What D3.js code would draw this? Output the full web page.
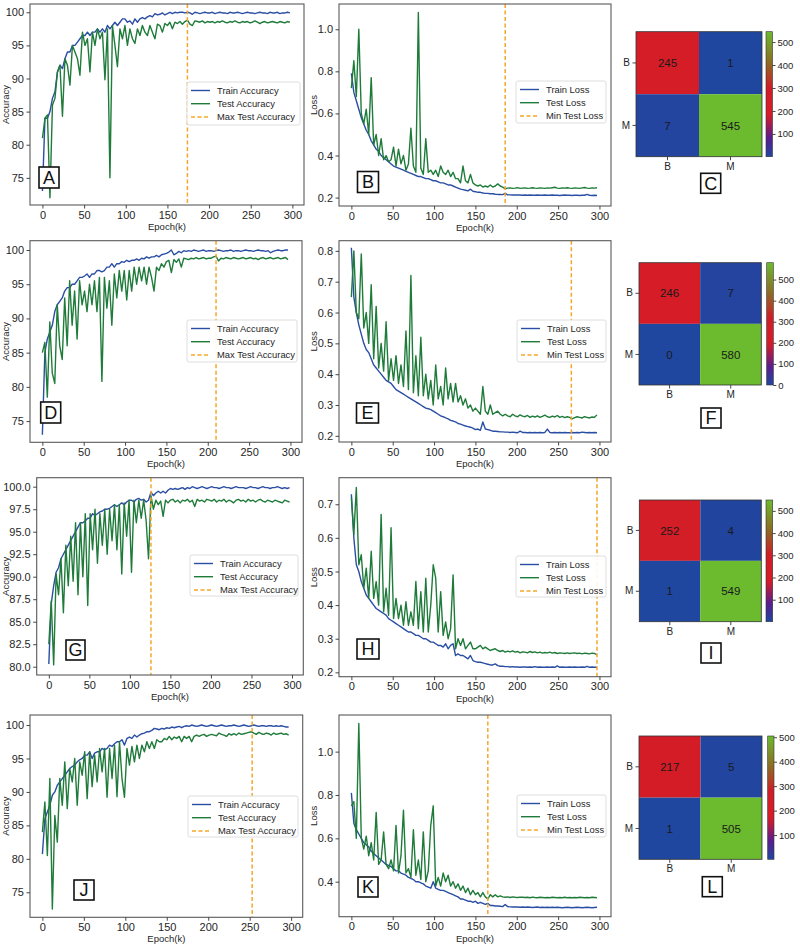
<!DOCTYPE html>
<html><head><meta charset="utf-8">
<script src="https://cdn.jsdelivr.net/npm/d3@7"></script>
<style>
body{margin:0;background:#fff}
svg{display:block}
text{font-family:"Liberation Sans",Arial,Helvetica,sans-serif}
</style>
</head><body>
<svg id="c" width="800" height="946"></svg>
<script>
// ---------- DATA ----------
const epochs = d3.range(0, 300, 3); // epoch (k) sample positions
const tickEpochs = [0, 50, 100, 150, 200, 250, 300];
const classes = ["B", "M"];

// Row 1
const trainAccA = [73,84,84,85,87,88,91,92,91.5,93, 94,94,95,95,95.5,96,96.5,96.5,97,96.5, 97,97,97.5,97,97.5,97,98,97.5,98,98.5, 98,98.5,99,99,98.5,98.7,98.2,99,98.5,99, 99.2,99,99.3,99.5,99.3,99.8,99.6,99.7,99.9,99.6, 99.8,100,99.8,100,99.9,100,100,99.9,100,99.9, 99.7,100,99.9,99.8,99.9,100,99.9,99.9,100,99.8, 99.9,100,99.9,99.9,99.8,100,99.9,99.9,100,99.9, 99.8,99.9,100,99.9,99.9,99.8,99.9,100,99.9,99.9, 99.8,100,99.9,99.9,100,99.8,99.9,99.9,100,99.9];
const testAccA = [81,84,84.5,72,86,87,91,92,84.3,93, 92,89,95,94,93,90.5,97,95,96,91, 97,95,97.5,96,97,89.8,97.5,75,98,95, 91.8,97.5,96,98,95,97.5,96,95.3,97.5,96.5, 98,97,96.5,98,97,96,98.2,98,97,98.3, 98,98.5,97.5,98.5,98.3,98.6,98.2,98.6,98.8,98.2, 98,98.7,98.6,98.5,98.7,98.4,98.6,98.5,98.6,98.4, 98.6,98.5,98.7,98.5,98.4,98.6,98.5,98.7,98.5,98.4, 98.6,98.5,98.6,98.4,98.5,98.7,98.5,98.3,98.5,98.6, 98.4,98.5,98.6,98.5,98.4,98.6,98.5,98.4,98.6,98.5];
const trainLossB = [0.79,0.7,0.66,0.62,0.58,0.55,0.52,0.5,0.47,0.45, 0.43,0.42,0.4,0.39,0.38,0.37,0.36,0.35,0.345,0.34, 0.335,0.33,0.325,0.32,0.315,0.31,0.305,0.3,0.3,0.295, 0.29,0.29,0.285,0.28,0.28,0.275,0.27,0.27,0.265,0.26, 0.26,0.255,0.25,0.245,0.24,0.238,0.235,0.232,0.24,0.23, 0.228,0.225,0.225,0.222,0.22,0.22,0.218,0.218,0.216,0.215, 0.215,0.214,0.22,0.213,0.213,0.212,0.213,0.212,0.212,0.211, 0.212,0.211,0.212,0.211,0.211,0.212,0.211,0.211,0.212,0.211, 0.211,0.212,0.211,0.211,0.21,0.211,0.212,0.211,0.211,0.21, 0.211,0.211,0.21,0.211,0.211,0.215,0.211,0.21,0.211,0.21];
const testLossB = [0.72,0.85,0.68,1.0,0.6,0.55,0.62,0.5,0.77,0.45, 0.5,0.4,0.48,0.38,0.4,0.37,0.38,0.44,0.35,0.43, 0.36,0.4,0.33,0.36,0.53,0.35,0.32,1.08,0.34,0.31, 0.48,0.32,0.33,0.31,0.33,0.3,0.35,0.32,0.31,0.33, 0.3,0.32,0.29,0.29,0.27,0.35,0.28,0.27,0.31,0.27, 0.26,0.255,0.26,0.25,0.255,0.25,0.26,0.25,0.255,0.265, 0.255,0.25,0.242,0.245,0.246,0.244,0.245,0.247,0.244,0.245, 0.246,0.244,0.245,0.247,0.245,0.244,0.246,0.245,0.244,0.246, 0.245,0.247,0.249,0.245,0.244,0.246,0.245,0.247,0.245,0.244, 0.246,0.245,0.244,0.246,0.248,0.245,0.244,0.246,0.245,0.247];
const cmC = [[245, 1], [7, 545]];

// Row 2
const trainAccD = [73,85,87,88,89,91,92,92.5,93,94, 94.5,94.5,95,95,95.5,96,96,96.2,96.5,96, 96.5,96.5,97,97,96.8,97,97.5,97.5,98,97.5, 98,98,98.3,98.2,98.5,98.3,98.5,98.5,98.7,98.5, 98.8,98.7,99,98.8,99,99,99.2,99,99.3,99.4, 99.5,99.7,100,99.3,99.5,99.8,99.6,99.9,99.8,99.9, 99.8,100,99.9,99.8,99.9,100,99.8,99.9,99.9,99.8, 99.9,100,99.9,99.8,99.9,99.9,100,99.8,99.9,99.9, 99.8,99.9,100,99.9,99.9,99.8,99.9,100,99.9,99.9, 99.8,99.9,99.6,99.8,99.9,100,99.9,99.9,100,100];
const testAccD = [85,86.5,78.5,89.5,82,80.5,92,86,84,93, 86,95.5,89,94,87,95.5,92,94,91,95, 92,95.5,91,96,80.8,96,91.5,95.5,89,96.5, 93,97,94,97,92.7,97,94,97.5,95,97.5, 95.5,97.5,95,97.5,96,94,97.5,97,98,97.5, 98.3,98.5,96.7,98.6,98.2,98.7,97.5,98.8,98.7,98.6, 98.8,98.7,98.9,98.7,98.8,98.9,98.7,98.8,98.8,99, 99.1,98.4,98.8,98.7,98.9,98.8,98.7,98.9,98.8,98.7, 98.8,98.9,98.7,98.8,98.9,98.7,98.8,98.6,98.8,98.9, 98.7,98.8,98.9,98.7,98.8,98.9,98.7,98.8,98.9,98.6];
const trainLossE = [0.81,0.65,0.6,0.56,0.53,0.5,0.48,0.47,0.45,0.43, 0.42,0.41,0.4,0.39,0.38,0.375,0.37,0.36,0.35,0.345, 0.34,0.335,0.33,0.325,0.32,0.315,0.31,0.305,0.3,0.295, 0.29,0.288,0.285,0.28,0.275,0.27,0.265,0.262,0.258,0.255, 0.25,0.248,0.245,0.24,0.238,0.235,0.232,0.23,0.228,0.225, 0.22,0.222,0.218,0.245,0.222,0.22,0.218,0.215,0.215,0.214, 0.213,0.213,0.212,0.212,0.211,0.212,0.211,0.21,0.215,0.211, 0.211,0.21,0.211,0.21,0.211,0.21,0.211,0.21,0.211,0.222, 0.211,0.21,0.211,0.21,0.211,0.21,0.211,0.21,0.21,0.211, 0.21,0.211,0.21,0.212,0.211,0.21,0.211,0.21,0.211,0.21];
const testLossE = [0.65,0.8,0.6,0.58,0.79,0.55,0.6,0.5,0.69,0.45, 0.62,0.42,0.5,0.41,0.57,0.38,0.45,0.38,0.46,0.37, 0.43,0.36,0.54,0.35,0.72,0.34,0.46,0.33,0.52,0.33, 0.4,0.32,0.38,0.3,0.43,0.32,0.36,0.3,0.42,0.32, 0.37,0.31,0.37,0.31,0.33,0.3,0.32,0.29,0.3,0.28, 0.29,0.28,0.27,0.36,0.28,0.27,0.3,0.27,0.275,0.28, 0.27,0.265,0.27,0.265,0.262,0.27,0.265,0.262,0.268,0.264, 0.262,0.266,0.26,0.264,0.261,0.265,0.26,0.263,0.267,0.262, 0.26,0.264,0.261,0.266,0.26,0.263,0.259,0.262,0.26,0.255, 0.259,0.262,0.26,0.258,0.262,0.26,0.258,0.261,0.26,0.268];
const cmF = [[246, 7], [0, 580]];

// Row 3
const trainAccG = [80.3,87,89,90.5,91,92,92.5,93,93.5,94, 94.5,95,95.5,96,96,96.2,96.5,96.5,97,96.8, 97,97.2,97.3,97.5,97.5,97.6,97.8,98,97.8,98, 98.2,98,98.3,98.5,98.5,98.3,98.6,98.7,98.5,98.6, 98.3,98.5,99.4,99,99.3,99.5,99.3,99.5,99.3,99.6, 99.8,99.7,99.8,99.7,99.8,99.9,99.7,99.9,99.8,100, 99.9,99.8,99.9,100,99.9,99.8,99.9,100,99.9,99.9, 99.8,99.9,100,99.9,99.9,99.8,99.9,100,99.9,99.9, 99.9,99.8,99.9,100,99.9,99.9,99.8,99.9,100,99.9, 99.9,99.8,99.9,99.9,100,99.9,99.8,99.9,99.8,99.9];
const testAccG = [82.5,87.3,80.2,90.3,88,92,86,93.5,89,94.5, 89.5,96,88,96,90,97,86.8,97,93,97.5, 91.5,97,93.5,97.5,92.5,97.5,94,98,93,98, 90.3,98.2,94.5,98.5,90.5,98.5,96,98.5,96.5,98.5, 96.3,92,99,97.5,98.5,98,98.4,96.7,98.5,98.2, 98.5,98.6,98.3,98.5,98.2,98.5,98.4,98.6,98.3,98.5, 97.8,98.6,98.4,98.5,98.3,98.6,98.5,98.4,98.6,98.3, 98.5,98.4,98.6,98.3,98.5,98.4,98.2,98.5,98.6,98.4, 98.5,98.3,98.6,98.4,98.5,98.3,98.5,98.6,98.4,98.3, 98.5,98.4,98.3,98.5,98.4,98.3,98.2,98.5,98.4,98.3];
const trainLossH = [0.73,0.6,0.52,0.5,0.47,0.45,0.43,0.42,0.41,0.4, 0.39,0.385,0.38,0.375,0.37,0.36,0.355,0.35,0.345,0.34, 0.335,0.33,0.325,0.32,0.32,0.315,0.31,0.31,0.305,0.3, 0.3,0.295,0.29,0.29,0.285,0.28,0.28,0.275,0.285,0.27, 0.28,0.285,0.25,0.255,0.25,0.25,0.245,0.24,0.25,0.235, 0.232,0.23,0.23,0.228,0.226,0.224,0.222,0.222,0.225,0.22, 0.218,0.218,0.217,0.217,0.216,0.217,0.216,0.216,0.215,0.216, 0.216,0.215,0.216,0.215,0.217,0.215,0.216,0.215,0.215,0.216, 0.215,0.216,0.215,0.219,0.215,0.216,0.215,0.215,0.216,0.215, 0.216,0.215,0.215,0.216,0.215,0.218,0.215,0.216,0.215,0.215];
const testLossH = [0.72,0.61,0.75,0.52,0.55,0.45,0.51,0.42,0.56,0.42, 0.47,0.4,0.67,0.38,0.45,0.37,0.63,0.36,0.42,0.36, 0.4,0.34,0.41,0.34,0.38,0.34,0.47,0.33,0.44,0.32, 0.48,0.32,0.4,0.52,0.48,0.32,0.44,0.31,0.35,0.3, 0.33,0.49,0.27,0.3,0.28,0.3,0.27,0.28,0.29,0.27, 0.27,0.275,0.28,0.27,0.275,0.27,0.265,0.268,0.27,0.265, 0.262,0.265,0.26,0.263,0.261,0.264,0.26,0.262,0.258,0.261, 0.26,0.258,0.262,0.259,0.261,0.258,0.26,0.257,0.259,0.258, 0.26,0.257,0.259,0.256,0.258,0.257,0.256,0.258,0.256,0.257, 0.258,0.256,0.257,0.255,0.257,0.256,0.255,0.257,0.256,0.252];
const cmI = [[252, 4], [1, 549]];

// Row 4
const trainAccJ = [80.7,86,87,88,89.5,90,91,91.5,92,92.5, 93,93.5,93.8,94,94.5,94.8,95,95.5,95.5,96, 95,95.8,96,96,96.5,96.3,96.5,97,96.8,97.2, 97.5,97.5,97.8,97,98,98.2,98,98.5,98.2,98.5, 98.7,98.8,99,99,99.2,99.5,99.4,99.3,99.5,99.4, 99.6,99.5,99.7,99.6,99.7,99.8,99.6,99.8,99.9,99.8, 100,99.9,99.8,99.9,100,99.9,99.8,99.9,100,99.9, 99.8,99.9,100,99.9,99.8,99.9,99.9,100,99.9,99.8, 99.9,100,99.9,99.8,99.9,100,99.9,99.8,99.9,99.9, 99.8,99.9,99.9,99.8,99.9,99.8,99.9,99.8,99.7,99.7];
const testAccJ = [84,88.5,80.5,92,72.5,86.5,82.5,92,88,94.5, 87.5,93.5,91.5,95,88,94.5,92.5,96,89,96, 90.8,95.5,91.5,96.5,93,96.5,89.2,96.5,92,97, 89.3,97.5,92,89.2,96.5,94,96.8,94.5,97,95, 97,96,97.5,96.5,97.5,96.5,97.8,97.5,97.5,98, 97.8,98.3,97.8,98.2,98,98.3,97.5,98.3,98,98.3, 97.5,98.3,98.5,98.3,98.5,98.6,98.3,98.5,98.6,98.5, 98.4,98.8,98.6,98.5,98.3,98.7,98.5,98.7,98.5,98.8, 98.6,98.7,98.8,98.9,99,98.8,98.6,98.9,98.7,98.6, 98.8,98.7,98.5,98.8,98.6,98.7,98.8,98.6,98.7,98.5];
const trainLossK = [0.81,0.67,0.64,0.62,0.6,0.58,0.57,0.56,0.54,0.53, 0.52,0.51,0.5,0.49,0.48,0.475,0.47,0.46,0.45,0.45, 0.44,0.435,0.43,0.42,0.415,0.41,0.4,0.4,0.395,0.39, 0.38,0.375,0.37,0.4,0.37,0.365,0.36,0.36,0.355,0.35, 0.345,0.34,0.335,0.33,0.32,0.32,0.315,0.31,0.31,0.305, 0.31,0.3,0.305,0.3,0.295,0.3,0.29,0.29,0.288,0.288, 0.287,0.285,0.295,0.285,0.284,0.283,0.284,0.283,0.282,0.283, 0.282,0.283,0.282,0.281,0.282,0.283,0.281,0.282,0.281,0.282, 0.281,0.282,0.281,0.282,0.281,0.28,0.281,0.282,0.281,0.28, 0.281,0.282,0.281,0.28,0.281,0.282,0.281,0.28,0.281,0.282];
const testLossK = [0.75,0.77,0.6,1.13,0.6,0.55,0.61,0.52,0.58,0.5, 0.72,0.48,0.5,0.63,0.48,0.46,0.5,0.45,0.66,0.44, 0.52,0.73,0.44,0.46,0.42,0.64,0.43,0.5,0.41,0.63, 0.4,0.45,0.66,0.75,0.38,0.42,0.38,0.44,0.4,0.43, 0.38,0.4,0.37,0.39,0.36,0.38,0.35,0.37,0.34,0.36, 0.34,0.35,0.33,0.35,0.33,0.32,0.34,0.33,0.34,0.33, 0.335,0.33,0.328,0.33,0.327,0.33,0.328,0.327,0.329,0.328, 0.327,0.328,0.326,0.329,0.327,0.326,0.328,0.327,0.326,0.327, 0.326,0.328,0.327,0.326,0.327,0.326,0.328,0.326,0.327,0.326, 0.327,0.326,0.328,0.327,0.326,0.327,0.326,0.328,0.327,0.326];
const cmL = [[217, 5], [1, 505]];

// Best-epoch markers
const bestEpochs = {A: 174, B: 186, D: 210, E: 266, G: 126, H: 297, J: 253, K: 165};

// Tick labels
const accTicks5 = [75, 80, 85, 90, 95, 100];
const accTicksG = [80, 82.5, 85, 87.5, 90, 92.5, 95, 97.5, 100];
const lossTicksB = [0.2, 0.4, 0.6, 0.8, 1.0];
const lossTicksE = [0.2, 0.3, 0.4, 0.5, 0.6, 0.7, 0.8];
const lossTicksH = [0.2, 0.3, 0.4, 0.5, 0.6, 0.7];
const lossTicksK = [0.4, 0.6, 0.8, 1.0];
const accLegend = ["Train Accuracy", "Test Accuracy", "Max Test Accuracy"];
const lossLegend = ["Train Loss", "Test Loss", "Min Test Loss"];

// ---------- STYLE ----------
const TRAIN = "#2a4ea3", TEST = "#1f7b3a", BEST = "#f4a62a";
const svg = d3.select("#c");
const defs = svg.append("defs");
const cmap = d3.scaleLinear()
  .domain([0, 0.15, 0.33, 0.55, 0.75, 1])
  .range(["#1f47a0", "#5a1d8e", "#d81c27", "#d01d27", "#8e6a24", "#6cba2e"])
  .interpolate(d3.interpolateRgb);

function letterBox(cx, cy, w, h, letter) {
  svg.append("rect").attr("x", cx - w / 2).attr("y", cy - h / 2).attr("width", w).attr("height", h)
    .attr("fill", "#fff").attr("stroke", "#111").attr("stroke-width", 1.6);
  svg.append("text").attr("x", cx).attr("y", cy).attr("dy", "0.36em").attr("text-anchor", "middle")
    .attr("font-size", 18).attr("fill", "#111").text(letter);
}

function styleAxis(g) {
  g.select(".domain").remove();
  g.selectAll(".tick line").attr("stroke", "#333").attr("stroke-width", 0.9);
  g.selectAll(".tick text").attr("fill", "#262626").attr("font-size", 11)
    .style("font-family", "'Liberation Sans',Arial,sans-serif");
}

function linePanel(p) {
  const [x0, y0, x1, y1] = p.box;
  const x = d3.scaleLinear().domain([-14.95, 313.95]).range([x0, x1]);
  const y = d3.scaleLinear().domain(p.yDom).range([y1, y0]);
  const cid = "clip" + p.letter;
  defs.append("clipPath").attr("id", cid).append("rect")
    .attr("x", x0).attr("y", y0).attr("width", x1 - x0).attr("height", y1 - y0);
  const g = svg.append("g");
  const plot = g.append("g").attr("clip-path", `url(#${cid})`);
  const line = d3.line().x((d, i) => x(epochs[i])).y(d => y(d));
  plot.append("path").datum(p.train).attr("d", line).attr("fill", "none")
    .attr("stroke", TRAIN).attr("stroke-width", 1.4).attr("stroke-linejoin", "round");
  plot.append("path").datum(p.test).attr("d", line).attr("fill", "none")
    .attr("stroke", TEST).attr("stroke-width", 1.4).attr("stroke-linejoin", "round");
  plot.append("line").attr("x1", x(p.best)).attr("x2", x(p.best)).attr("y1", y0).attr("y2", y1)
    .attr("stroke", BEST).attr("stroke-width", 1.5).attr("stroke-dasharray", "4,2.5");
  g.append("rect").attr("x", x0).attr("y", y0).attr("width", x1 - x0).attr("height", y1 - y0)
    .attr("fill", "none").attr("stroke", "#5a5a5a").attr("stroke-width", 1.1);
  const ax = g.append("g").attr("transform", `translate(0,${y1})`)
    .call(d3.axisBottom(x).tickValues(tickEpochs).tickSize(3.5).tickPadding(2.5));
  styleAxis(ax);
  const ay = g.append("g").attr("transform", `translate(${x0},0)`)
    .call(d3.axisLeft(y).tickValues(p.yTicks).tickFormat(p.fmt).tickSize(3.5).tickPadding(2.5));
  styleAxis(ay);
  g.append("text").attr("x", (x0 + x1) / 2).attr("y", y1 + 25).attr("text-anchor", "middle")
    .attr("font-size", 9.5).attr("fill", "#262626").text("Epoch(k)");
  g.append("text").attr("transform", `translate(${p.ylabX},${(y0 + y1) / 2}) rotate(-90)`)
    .attr("text-anchor", "middle").attr("dy", "0.35em").attr("font-size", 9.5).attr("fill", "#262626").text(p.ylabel);
  // legend
  const [lx0, ly0, lx1, ly1] = p.legend;
  g.append("rect").attr("x", lx0).attr("y", ly0).attr("width", lx1 - lx0).attr("height", ly1 - ly0)
    .attr("rx", 2).attr("fill", "#fff").attr("fill-opacity", 0.9).attr("stroke", "#d6d6d6").attr("stroke-width", 0.8);
  const cols = [TRAIN, TEST, BEST];
  p.names.forEach((n, i) => {
    const yy = ly0 + 8.5 + i * 13.2;
    g.append("line").attr("x1", lx0 + 4).attr("x2", lx0 + 23).attr("y1", yy).attr("y2", yy)
      .attr("stroke", cols[i]).attr("stroke-width", i === 2 ? 1.5 : 1.4)
      .attr("stroke-dasharray", i === 2 ? "4,2.5" : null);
    g.append("text").attr("x", lx0 + 30).attr("y", yy).attr("dy", "0.35em")
      .attr("font-size", 9.4).attr("fill", "#262626").text(n);
  });
  letterBox(p.lbox[0], p.lbox[1], p.lbox[2], p.lbox[3], p.letter);
}

let gradN = 0;
function cmPanel(p) {
  const [x0, y0, x1, y1] = p.box;
  const vals = p.cm.flat();
  const vmin = d3.min(vals), vmax = d3.max(vals);
  const xs = d3.scaleBand().domain(classes).range([x0, x1]);
  const ys = d3.scaleBand().domain(classes).range([y0, y1]);
  const norm = d3.scaleLinear().domain([vmin, vmax]).range([0, 1]);
  const g = svg.append("g");
  classes.forEach((r, i) => classes.forEach((c, j) => {
    const v = p.cm[i][j];
    g.append("rect").attr("x", xs(c)).attr("y", ys(r)).attr("width", xs.bandwidth()).attr("height", ys.bandwidth())
      .attr("fill", cmap(norm(v)));
    g.append("text").attr("x", xs(c) + xs.bandwidth() / 2).attr("y", ys(r) + ys.bandwidth() / 2)
      .attr("dy", "0.36em").attr("text-anchor", "middle").attr("font-size", 11.5).attr("fill", "#1a1a1a").text(v);
  }));
  g.append("rect").attr("x", x0).attr("y", y0).attr("width", x1 - x0).attr("height", y1 - y0)
    .attr("fill", "none").attr("stroke", "#333").attr("stroke-width", 0.8);
  const ay = g.append("g").attr("transform", `translate(${x0},0)`).call(d3.axisLeft(ys).tickSize(3.5).tickPadding(2.5));
  styleAxis(ay); ay.selectAll(".tick text").attr("font-size", 10);
  const ax = g.append("g").attr("transform", `translate(0,${y1})`).call(d3.axisBottom(xs).tickSize(3.5).tickPadding(2.5));
  styleAxis(ax); ax.selectAll(".tick text").attr("font-size", 10);
  // colorbar
  const [cx0, cx1] = p.cbar;
  const gid = "grad" + (gradN++);
  const grad = defs.append("linearGradient").attr("id", gid).attr("x1", 0).attr("y1", 1).attr("x2", 0).attr("y2", 0);
  d3.range(0, 1.0001, 0.05).forEach(t => grad.append("stop").attr("offset", t).attr("stop-color", cmap(t)));
  g.append("rect").attr("x", cx0).attr("y", y0).attr("width", cx1 - cx0).attr("height", y1 - y0)
    .attr("fill", `url(#${gid})`).attr("stroke", "#333").attr("stroke-width", 0.6);
  const cs = d3.scaleLinear().domain([vmin, vmax]).range([y1, y0]);
  const cticks = d3.range(0, vmax + 1, 100).filter(t => t >= vmin);
  const ac = g.append("g").attr("transform", `translate(${cx1},0)`)
    .call(d3.axisRight(cs).tickValues(cticks).tickFormat(d3.format("d")).tickSize(3).tickPadding(2));
  styleAxis(ac); ac.selectAll(".tick text").attr("font-size", 9.5);
  letterBox(p.lbox[0], p.lbox[1], p.lbox[2], p.lbox[3], p.letter);
}

const fmtInt = d3.format("d"), fmt1 = d3.format(".1f");

// ---------- PANELS ----------
linePanel({letter: "A", box: [30, 4, 304, 205], yDom: [70.9, 101.25], yTicks: accTicks5, fmt: fmtInt,
  train: trainAccA, test: testAccA, best: bestEpochs.A, ylabel: "Accuracy", ylabX: 6, names: accLegend,
  legend: [187, 82, 300, 125], lbox: [49, 177.5, 20, 21]});
linePanel({letter: "B", box: [339, 4, 611, 206], yDom: [0.16, 1.12], yTicks: lossTicksB, fmt: fmt1,
  train: trainLossB, test: testLossB, best: bestEpochs.B, ylabel: "Loss", ylabX: 314, names: lossLegend,
  legend: [516, 81, 606, 123], lbox: [368, 182, 21, 21]});
cmPanel({letter: "C", cm: cmC, box: [636, 31.7, 762, 156.7], cbar: [766, 772.5], lbox: [710.7, 183.3, 20, 20]});

linePanel({letter: "D", box: [30, 240.7, 302, 442.3], yDom: [71.9, 101.36], yTicks: accTicks5, fmt: fmtInt,
  train: trainAccD, test: testAccD, best: bestEpochs.D, ylabel: "Accuracy", ylabX: 6, names: accLegend,
  legend: [187, 320, 297, 362], lbox: [50.7, 412.5, 20, 21]});
linePanel({letter: "E", box: [339, 240.7, 611, 442], yDom: [0.18, 0.833], yTicks: lossTicksE, fmt: fmt1,
  train: trainLossE, test: testLossE, best: bestEpochs.E, ylabel: "Loss", ylabX: 314, names: lossLegend,
  legend: [517, 320, 606, 362], lbox: [367.5, 413, 22, 20]});
cmPanel({letter: "F", cm: cmF, box: [639, 262.7, 761.3, 385], cbar: [766.7, 773.3], lbox: [711, 418, 20, 20]});

linePanel({letter: "G", box: [36.7, 477.7, 303.3, 675], yDom: [79.08, 101], yTicks: accTicksG, fmt: fmt1,
  train: trainAccG, test: testAccG, best: bestEpochs.G, ylabel: "Accuracy", ylabX: 6, names: accLegend,
  legend: [190, 555, 298, 596], lbox: [75.5, 650, 19, 20]});
linePanel({letter: "H", box: [339, 477.7, 611, 676.7], yDom: [0.187, 0.779], yTicks: lossTicksH, fmt: fmt1,
  train: trainLossH, test: testLossH, best: bestEpochs.H, ylabel: "Loss", ylabX: 314, names: lossLegend,
  legend: [516, 556, 606, 597], lbox: [368, 649, 22, 20]});
cmPanel({letter: "I", cm: cmI, box: [639.3, 500, 761.3, 621.7], cbar: [766, 772.7], lbox: [711, 653, 20, 20]});

linePanel({letter: "J", box: [30, 715, 302.7, 917.3], yDom: [71.26, 101.5], yTicks: accTicks5, fmt: fmtInt,
  train: trainAccJ, test: testAccJ, best: bestEpochs.J, ylabel: "Accuracy", ylabX: 6, names: accLegend,
  legend: [188, 796, 298, 837], lbox: [84, 890, 20, 20]});
linePanel({letter: "K", box: [339, 715, 611, 916.7], yDom: [0.2385, 1.169], yTicks: lossTicksK, fmt: fmt1,
  train: trainLossK, test: testLossK, best: bestEpochs.K, ylabel: "Loss", ylabX: 314, names: lossLegend,
  legend: [517, 795, 606, 837], lbox: [368, 887, 20, 20]});
cmPanel({letter: "L", cm: cmL, box: [639, 736, 762, 859.3], cbar: [767.7, 774], lbox: [712.3, 886.7, 20, 20]});
</script>
</body></html>
